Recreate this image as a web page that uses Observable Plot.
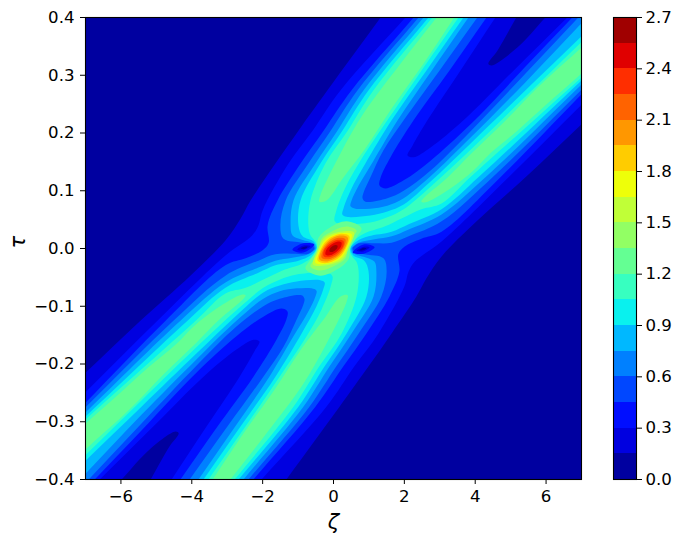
<!DOCTYPE html>
<html><head><meta charset="utf-8">
<script src="https://cdn.jsdelivr.net/npm/d3@7"></script>
<script src="https://cdn.jsdelivr.net/npm/@observablehq/plot@0.6"></script>
<style>html,body{margin:0;padding:0;background:#fff;overflow:hidden}#chart{display:flex;width:676px;height:545px}svg{display:block;flex:none}</style>
</head><body><div id="chart"></div>
<script>
// band colours, 0.15 wide from 0 to 2.7
const bandColors = ["rgb(0,0,160)","rgb(0,0,224)","rgb(0,14,255)","rgb(0,71,255)","rgb(0,128,255)","rgb(0,184,255)","rgb(9,241,238)","rgb(55,255,192)","rgb(100,255,147)","rgb(146,255,100)","rgb(192,255,55)","rgb(238,255,9)","rgb(255,204,0)","rgb(255,151,0)","rgb(255,99,0)","rgb(255,46,0)","rgb(224,0,0)","rgb(160,0,0)"];
const barEdges = [0,0.15,0.3,0.45,0.6,0.75,0.9,1.05,1.2,1.35,1.5,1.65,1.8,1.95,2.1,2.25,2.4,2.55,2.7];
const xTicks = [-6,-4,-2,0,2,4,6];
const yTicks = [-0.4,-0.3,-0.2,-0.1,0,0.1,0.2,0.3,0.4];
const barTicks = [0,0.3,0.6,0.9,1.2,1.5,1.8,2.1,2.4,2.7];

// iso-lines [zeta, tau]: left flank of the X, left edge to top edge
const outer015 = [[-7,-.215],[-5.45,-.125],[-4.04,-.047],[-3.05,.014],[-2.62,.052],[-2.34,.083],[-1.64,.147],[-.99,.204],[-.17,.274],[1.33,.4]];
const outer030 = [[-7,-.249],[-4.97,-.125],[-3.05,-.012],[-2.29,.023],[-2.12,.04],[-2,.066],[-1.27,.147],[-.59,.204],[.2,.274],[2.03,.4]];
const outer045 = [[-7,-.267],[-4.74,-.125],[-3.05,-.029],[-2.48,-.017],[-2,-.003],[-1.83,.01],[-1.86,.04],[-1.58,.083],[-.93,.147],[-.28,.204],[.51,.274],[2.26,.4]];
const outer060 = [[-7,-.275],[-4.52,-.125],[-3.05,-.047],[-2.12,-.021],[-1.64,-.01],[-1.16,-.009],[-.71,-.009],[-.54,0],[-.59,.005],[-.87,.01],[-1.41,.017],[-1.5,.04],[-1.35,.083],[-.71,.147],[-.08,.204],[.68,.274],[2.4,.4]];
const outer075 = [[-7,-.284],[-4.32,-.125],[-3.05,-.059],[-2.12,-.033],[-1.64,-.021],[-1.16,-.016],[-.71,-.01],[-.51,0],[-.59,.009],[-.93,.016],[-1.16,.023],[-1.21,.04],[-1.13,.083],[-.51,.147],[.11,.204],[.85,.274],[2.54,.4]];
const outer090 = [[-7,-.291],[-4.12,-.125],[-3.05,-.068],[-2.12,-.042],[-1.64,-.029],[-.99,-.021],[-.65,-.012],[-.48,0],[-.56,.012],[-.87,.021],[-.99,.04],[-.93,.083],[-.37,.147],[.25,.204],[.99,.274],[2.68,.4]];
const outer105 = [[-7,-.296],[-3.89,-.125],[-3.05,-.078],[-2.48,-.068],[-1.92,-.052],[-1.44,-.038],[-.87,-.026],[-.59,-.014],[-.45,-.002],[-.51,.012],[-.65,.023],[-.71,.04],[-.65,.083],[-.23,.147],[.4,.204],[1.13,.274],[2.79,.4]];

// iso-lines of the upper valley, top edge to tip to right edge
const valley015 = [[5.16,.4],[4.63,.343],[4.37,.32],[4.46,.317],[5.19,.348],[5.98,.4]];
const valley030 = [[4.57,.4],[3.58,.308],[2.65,.222],[2.23,.178],[2.09,.161],[2.26,.158],[2.74,.175],[3.67,.222],[5.08,.308],[6.6,.4]];
const valley045 = [[4.32,.4],[3.27,.308],[2.26,.222],[1.61,.158],[1.33,.123],[1.3,.109],[1.47,.104],[1.98,.118],[2.74,.152],[3.87,.215],[5.42,.315],[6.74,.4]];
const valley060 = [[4.06,.4],[2.99,.308],[1.98,.222],[1.41,.17],[1.04,.123],[.85,.097],[.82,.087],[.9,.081],[1.52,.087],[1.98,.1],[2.74,.135],[3.87,.203],[5.42,.303],[6.91,.4]];
const valley075 = [[3.81,.4],[2.77,.308],[1.81,.222],[1.13,.152],[.71,.109],[.51,.083],[.48,.073],[.62,.069],[1.04,.069],[1.52,.074],[1.98,.087],[2.74,.125],[3.87,.192],[5.42,.288],[7.11,.397]];
const valley090 = [[3.67,.4],[2.62,.308],[1.64,.222],[.9,.147],[.48,.1],[.28,.069],[.25,.059],[.37,.055],[1.04,.057],[1.52,.064],[1.98,.076],[2.74,.116],[3.87,.182],[5.42,.274],[7.11,.374]];
const valley105 = [[3.53,.4],[2.48,.308],[1.52,.222],[.76,.152],[.34,.106],[.08,.066],[.03,.048],[.14,.043],[1.04,.045],[1.52,.054],[1.98,.068],[2.74,.107],[3.87,.171],[5.42,.263],[7.11,.364]];

// 1.2 iso-lines along the two upper ridges
const ridgeA120 = [[2.91,.4],[1.89,.32],[.85,.234],[.2,.165],[-.37,.092],[-.4,.081],[-.2,.083],[.28,.123],[.9,.173],[1.66,.244],[2.54,.32],[3.41,.4]];
const ridgeB120 = [[7,.348],[5.76,.279],[4.8,.218],[3.87,.163],[3.22,.123],[2.54,.087],[2.48,.081],[2.6,.08],[3.3,.104],[3.95,.135],[4.43,.165],[5.19,.204],[6.04,.251],[7,.303]];

// dip left of the peak
const dip045 = [[-1.16,-.002],[-.85,.009],[-.54,.007],[-.85,-.007]];
const dip030 = [[-1.02,-.002],[-.85,.005],[-.65,.004],[-.85,-.003]];
const dip015 = [[-.93,0],[-.82,.003],[-.73,.003],[-.82,-.001]];

// half of each closed iso-line round the central peak
const peak120 = [[.79,.035],[.65,.019],[.48,.002],[.42,-.019],[.11,-.036],[-.37,-.047]];
const peak135 = [[.65,.031],[.51,.017],[.4,.002],[.34,-.017],[.06,-.029],[-.37,-.038]];
const peak150 = [[.578,.0277],[.46,.005],[.243,-.0191],[-.2,-.029]];
const peak165 = [[.512,.0245],[.42,.005],[.209,-.0164],[-.19,-.0265]];
const peak180 = [[.445,.0213],[.38,.0045],[.183,-.0143],[-.185,-.0252]];
const peak195 = [[.4,.0192],[.35,.0045],[.157,-.0123],[-.172,-.0223]];
const peak210 = [[.334,.016],[.3,.0041],[.13,-.0102],[-.144,-.0185]];
const peak225 = [[.278,.0133],[.27,.0036],[.104,-.0082],[-.123,-.0152]];
const peak240 = [[.222,.0107],[.212,.0033],[.078,-.0061],[-.102,-.0119]];
const peak255 = [[.111,.0053],[.109,.0013],[.043,-.0034],[-.048,-.0062]];

// the field is unchanged by a half turn about the origin
const turned = pts => pts.map(([z, t]) => [-z, -t]);
// carry an open iso-line past the frame so that its closing edge stays out of sight
const past = pts => {
  const a = pts[0], b = pts[1], y = pts[pts.length - 1], w = pts[pts.length - 2];
  return [[2*a[0]-b[0], 2*a[1]-b[1]], ...pts, [2*y[0]-w[0], 2*y[1]-w[1]]];
};
const xShape = (o, v) => [...past(o), ...past(v), ...turned(past(o)), ...turned(past(v))];
const whole = half => [...half, ...turned(half)];

const band = (pts, i, curve = "catmull-rom") => Plot.line(pts, {x: d => d[0], y: d => d[1], fill: bandColors[i], stroke: "none", curve, clip: true});
const ring = (pts, i) => band(pts, i, "catmull-rom-closed");

const fieldMarks = [
  band([...past(outer015), [12,.7], ...turned(past(outer015)), [-12,-.7]], 1),
  band(past(valley015), 0), band(turned(past(valley015)), 0),
  band(xShape(outer030, valley030), 2),
  band(xShape(outer045, valley045), 3),
  band(xShape(outer060, valley060), 4),
  band(xShape(outer075, valley075), 5),
  band(xShape(outer090, valley090), 6),
  band(xShape(outer105, valley105), 7),
  band(past(ridgeA120), 8), band(turned(past(ridgeA120)), 8),
  band(past(ridgeB120), 8), band(turned(past(ridgeB120)), 8),
  ring(dip045, 2), ring(turned(dip045), 2),
  ring(dip030, 1), ring(turned(dip030), 1),
  ring(dip015, 0), ring(turned(dip015), 0),
  ring(whole(peak120), 8), ring(whole(peak135), 9), ring(whole(peak150), 10), ring(whole(peak165), 11),
  ring(whole(peak180), 12), ring(whole(peak195), 13), ring(whole(peak210), 14), ring(whole(peak225), 15),
  ring(whole(peak240), 16), ring(whole(peak255), 17)
];

const fmt = d3.format(".1f");
const fontStyle = {fontFamily: "DejaVu Sans", fontSize: "16.6px", color: "black", background: "white"};

const main = Plot.plot({
  width: 600, height: 545,
  marginLeft: 85, marginRight: 19, marginTop: 17, marginBottom: 66,
  style: fontStyle,
  x: {domain: [-7, 7]},
  y: {domain: [-0.4, 0.4]},
  marks: [
    Plot.frame({fill: bandColors[0], stroke: "none"}),
    ...fieldMarks,
    Plot.frame({stroke: "black", strokeWidth: 1.1}),
    Plot.axisX({ticks: xTicks, tickSize: 5, tickPadding: 6, label: null, tickFormat: d3.format("d"), stroke: "black", fill: "black"}),
    Plot.axisY({ticks: yTicks, tickSize: 5, tickPadding: 6, label: null, tickFormat: fmt, stroke: "black", fill: "black"}),
    Plot.text(["ζ"], {frameAnchor: "bottom", dy: 49, fontStyle: "italic", fontSize: 21, fill: "black"}),
    Plot.text(["τ"], {frameAnchor: "left", dx: -67, rotate: -90, fontStyle: "italic", fontSize: 21, fill: "black"})
  ]
});

const barBands = bandColors.map((c, i) => ({lo: barEdges[i], hi: barEdges[i + 1], c}));
const bar = Plot.plot({
  width: 76, height: 545,
  marginLeft: 13, marginRight: 40, marginTop: 17, marginBottom: 66,
  style: fontStyle,
  x: {domain: [0, 1], axis: null},
  y: {domain: [0, 2.7]},
  marks: [
    Plot.rect(barBands, {x1: 0, x2: 1, y1: "lo", y2: "hi", fill: d => d.c, shapeRendering: "crispEdges"}),
    Plot.frame({stroke: "black", strokeWidth: 1.1}),
    Plot.axisY({anchor: "right", ticks: barTicks, tickSize: 5, tickPadding: 4, label: null, tickFormat: fmt, stroke: "black", fill: "black"})
  ]
});
document.getElementById("chart").append(main, bar);
</script></body></html>
